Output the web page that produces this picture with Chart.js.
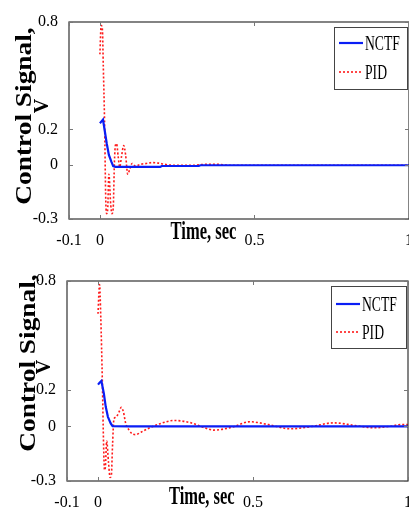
<!DOCTYPE html>
<html>
<head>
<meta charset="utf-8">
<script src="https://cdn.jsdelivr.net/npm/chart.js@4.4.0/dist/chart.umd.min.js"></script>
<style>
  html, body { margin: 0; padding: 0; background: #fff; }
  .wrap { position: absolute; left: 0; width: 409px; height: 256px; }
</style>
</head>
<body>
<div class="wrap" style="top:0"><canvas id="topChart" width="409" height="256"></canvas></div>
<div class="wrap" style="top:256px"><canvas id="bottomChart" width="409" height="256"></canvas></div>
<script>
// axis ticks
const xTicks = [-0.1, 0, 0.5, 1];
const xTickLabels = ['-0.1', '0', '0.5', '1'];
const yTicks = [-0.3, 0, 0.2, 0.8];
const yTickLabels = ['-0.3', '0', '0.2', '0.8'];
const seriesNames = ['NCTF', 'PID'];

// top plot
const nctfTopT = [0, 0.005, 0.01, 0.015, 0.022, 0.029, 0.037, 0.043, 0.05, 0.1, 0.15, 0.195, 0.2, 0.3, 0.32, 0.325, 0.5, 0.75, 1.0];
const nctfTopV = [0.235, 0.245, 0.255, 0.2, 0.123, 0.058, 0.02, -0.005, -0.009, -0.009, -0.009, -0.009, -0.004, -0.004, -0.004, 0, 0, 0, 0];
const pidTopT = [0, 0.004, 0.008, 0.011, 0.015, 0.019, 0.022, 0.025, 0.029, 0.035, 0.039, 0.043, 0.047, 0.05, 0.054, 0.059, 0.064, 0.07, 0.077, 0.083, 0.09, 0.097, 0.104, 0.115, 0.13, 0.15, 0.17, 0.19, 0.21, 0.24, 0.3, 0.34, 0.38, 0.42, 0.5, 0.75, 1.0];
const pidTopV = [0.62, 0.78, 0.76, 0.55, 0.25, -0.2, -0.27, -0.25, -0.05, -0.22, -0.27, -0.24, 0.02, 0.11, 0.12, 0.05, -0.01, 0.05, 0.11, 0.06, -0.05, -0.02, 0.01, -0.005, 0.005, 0.01, 0.015, 0.012, 0.005, 0, 0, 0.005, 0.005, 0, 0, 0, 0];

// bottom plot
const nctfBotT = [0, 0.005, 0.011, 0.019, 0.025, 0.032, 0.041, 0.047, 0.1, 0.2, 0.4, 0.6, 0.8, 1.0];
const nctfBotV = [0.23, 0.24, 0.25, 0.18, 0.108, 0.053, 0.017, 0.002, 0, 0, 0, 0, 0, 0];
const pidBotT = [0, 0.005, 0.009, 0.014, 0.018, 0.021, 0.024, 0.028, 0.034, 0.039, 0.043, 0.047, 0.051, 0.056, 0.062, 0.068, 0.075, 0.082, 0.089, 0.1, 0.11, 0.121, 0.14, 0.17, 0.2, 0.245, 0.3, 0.34, 0.373, 0.43, 0.49, 0.55, 0.62, 0.69, 0.76, 0.83, 0.89, 0.94, 0.975, 1.0];
const pidBotV = [0.62, 0.78, 0.6, 0.25, -0.1, -0.24, -0.22, -0.08, -0.2, -0.28, -0.27, -0.1, 0.035, 0.05, 0.06, 0.08, 0.105, 0.08, 0.02, -0.02, -0.04, -0.045, -0.03, -0.005, 0.015, 0.033, 0.02, -0.005, -0.02, -0.005, 0.026, 0.01, -0.013, 0, 0.02, 0.005, -0.007, 0, 0.01, 0.01];

function pts(t, v) {
  return t.map((x, i) => ({ x: x, y: v[i] }));
}

// frame, inward tick marks, titles and legend box
const decor = {
  id: 'decor',
  afterDraw(chart, args, o) {
    const ctx = chart.ctx, a = chart.chartArea;
    const xs = chart.scales.x, ys = chart.scales.y;
    ctx.save();
    ctx.strokeStyle = '#333';
    ctx.lineWidth = 1.2;
    ctx.strokeRect(a.left, a.top, a.right - a.left, a.bottom - a.top);
    ctx.strokeStyle = '#777';
    ctx.lineWidth = 1;
    ctx.beginPath();
    xTicks.forEach(v => {
      const px = Math.round(xs.getPixelForValue(v)) + 0.5;
      ctx.moveTo(px, a.bottom); ctx.lineTo(px, a.bottom - 4);
      ctx.moveTo(px, a.top); ctx.lineTo(px, a.top + 4);
    });
    yTicks.forEach(v => {
      const py = Math.round(ys.getPixelForValue(v)) + 0.5;
      ctx.moveTo(a.left, py); ctx.lineTo(a.left + 4, py);
      ctx.moveTo(a.right, py); ctx.lineTo(a.right - 4, py);
    });
    ctx.stroke();

    // x title
    ctx.fillStyle = '#000';
    ctx.font = 'bold 25px "Liberation Serif"';
    ctx.textAlign = 'center';
    ctx.textBaseline = 'alphabetic';
    ctx.save();
    ctx.translate(xs.getPixelForValue(o.xTitleAt), a.bottom + o.xTitleDy);
    ctx.scale(0.66, 1);
    ctx.fillText('Time, sec', 0, 0);
    ctx.restore();

    // y title, two lines
    ctx.save();
    ctx.translate(o.yTitleX1, o.yTitleY1);
    ctx.rotate(-Math.PI / 2);
    ctx.scale(1.14, 1);
    ctx.font = 'bold 24px "Liberation Serif"';
    ctx.fillText('Control Signal,', 0, 0);
    ctx.restore();
    ctx.save();
    ctx.translate(o.yTitleX2, o.yTitleY2);
    ctx.rotate(-Math.PI / 2);
    ctx.font = 'bold 20px "Liberation Serif"';
    ctx.fillText('V', 0, 0);
    ctx.restore();

    // legend
    const L = o.legend;
    ctx.fillStyle = '#fff';
    ctx.fillRect(L.x, L.y, L.w, L.h);
    ctx.strokeStyle = '#444';
    ctx.lineWidth = 1;
    ctx.strokeRect(L.x + 0.5, L.y + 0.5, L.w, L.h);
    chart.data.datasets.forEach((ds, i) => {
      const ly = L.rows[i];
      ctx.strokeStyle = ds.borderColor;
      ctx.lineWidth = ds.borderWidth;
      ctx.setLineDash(ds.borderDash || []);
      ctx.beginPath();
      ctx.moveTo(L.x + 5, ly);
      ctx.lineTo(L.x + 29, ly);
      ctx.stroke();
      ctx.setLineDash([]);
      ctx.save();
      ctx.translate(L.x + 31, ly + 7);
      ctx.scale(0.62, 1);
      ctx.fillStyle = '#000';
      ctx.font = '22px "Liberation Serif"';
      ctx.textAlign = 'left';
      ctx.fillText(ds.label, 0, 0);
      ctx.restore();
    });
    ctx.restore();
  }
};

function makeChart(id, nT, nV, pT, pV, box, deco) {
  return new Chart(document.getElementById(id), {
    type: 'line',
    data: {
      datasets: [
        { label: seriesNames[0], data: pts(nT, nV), borderColor: '#0a1ef5', borderWidth: 2.2, pointRadius: 0, tension: 0 },
        { label: seriesNames[1], data: pts(pT, pV), borderColor: '#ff1a1a', borderWidth: 1.6, borderDash: [2, 2], pointRadius: 0, cubicInterpolationMode: 'monotone' }
      ]
    },
    options: {
      responsive: false,
      animation: false,
      layout: { padding: { left: 0, top: box.top, right: box.right, bottom: 0 } },
      plugins: { legend: { display: false }, tooltip: { enabled: false }, decor: deco },
      scales: {
        x: {
          type: 'linear', min: -0.1, max: 1,
          afterBuildTicks: s => { s.ticks = xTicks.map(v => ({ value: v })); },
          afterFit: s => { s.height = 256 - box.bottom; s.paddingLeft = 0; s.paddingRight = 0; },
          grid: { display: false }, border: { display: false },
          ticks: {
            autoSkip: false, maxRotation: 0, padding: 4, color: '#000',
            font: { family: 'Liberation Serif', size: 16 },
            callback: v => xTickLabels[xTicks.indexOf(v)]
          }
        },
        y: {
          min: -0.3, max: 0.8,
          afterBuildTicks: s => { s.ticks = yTicks.map(v => ({ value: v })); },
          afterFit: s => { s.width = box.left; s.paddingTop = 0; s.paddingBottom = 0; },
          grid: { display: false }, border: { display: false },
          ticks: {
            autoSkip: false, padding: 3, color: '#000',
            font: { family: 'Liberation Serif', size: 16 },
            callback: v => yTickLabels[yTicks.indexOf(v)]
          }
        }
      }
    },
    plugins: [decor]
  });
}

makeChart('topChart', nctfTopT, nctfTopV, pidTopT, pidTopV,
  { left: 69, top: 22, bottom: 219, right: 0 },
  { xTitleAt: 0.335, xTitleDy: 20, yTitleX1: 31, yTitleY1: 116, yTitleX2: 48, yTitleY2: 106,
    legend: { x: 334, y: 27, w: 73, h: 62, rows: [43, 72] } });

makeChart('bottomChart', nctfBotT, nctfBotV, pidBotT, pidBotV,
  { left: 67, top: 25, bottom: 225, right: 1 },
  { xTitleAt: 0.335, xTitleDy: 23, yTitleX1: 35, yTitleY1: 107, yTitleX2: 50, yTitleY2: 111,
    legend: { x: 331, y: 30, w: 75, h: 62, rows: [48, 76] } });
</script>
</body>
</html>
